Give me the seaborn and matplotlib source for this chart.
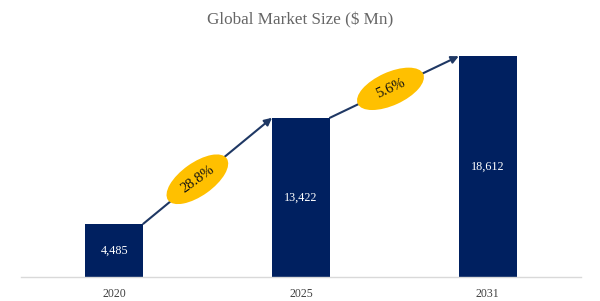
import numpy as np
import pandas as pd
import matplotlib
matplotlib.use("Agg")
import matplotlib.pyplot as plt
from matplotlib.patches import Ellipse
from matplotlib.transforms import IdentityTransform
import seaborn as sns

years = ["2020", "2025", "2031"]
values = [4485, 13422, 18612]
value_labels = ["4,485", "13,422", "18,612"]
cagr_labels = ["28.8%", "5.6%"]

sns.set_style("white")
plt.rcParams["font.family"] = ["Liberation Serif", "DejaVu Serif"]

df = pd.DataFrame({"year": years, "value": values})

fig = plt.figure(figsize=(6, 3.01), dpi=100)
ax = fig.add_axes([21/600, 24/301, 560/600, 247/301])

bar_w = 0.31
navy = "#002060"
sns.barplot(data=df, x="year", y="value", color=navy, width=bar_w,
            saturation=1, ax=ax, edgecolor="none")
ax.set_xlim(-0.5, 2.5)
ax.set_ylim(0, 20820)
ax.set_xlabel("")
ax.set_ylabel("")
ax.set_yticks([])
ax.tick_params(axis="x", length=0, pad=8, labelsize=8.5, labelcolor="#404040")
for s in ["top", "left", "right"]:
    ax.spines[s].set_visible(False)
ax.spines["bottom"].set_color("#D9D9D9")
ax.spines["bottom"].set_linewidth(1)

for i, (v, lab) in enumerate(zip(values, value_labels)):
    ax.text(i, v / 2, lab, ha="center", va="center", color="white", fontsize=8.7)

fig.text(0.5, 1 - 20/301, "Global Market Size ($ Mn)", ha="center", va="center",
         fontsize=12.3, color="#666666")

fig.canvas.draw()
fracs = [0.42, 0.47]
for i in range(2):
    x0, y0 = i + bar_w / 2, values[i]
    x1, y1 = i + 1 - bar_w / 2, values[i + 1]
    ax.annotate("", xy=(x1, y1), xytext=(x0, y0),
                arrowprops=dict(arrowstyle="-|>", color="#1F3864", lw=1.5,
                                mutation_scale=11, shrinkA=0, shrinkB=0))
    p0 = ax.transData.transform((x0, y0))
    p1 = ax.transData.transform((x1, y1))
    ang = np.degrees(np.arctan2(p1[1] - p0[1], p1[0] - p0[0]))
    c = p0 + fracs[i] * (p1 - p0)
    ang_e = ang - 4 if i == 0 else ang - 1
    e = Ellipse(c, 72, 33, angle=ang_e, transform=IdentityTransform(),
                facecolor="#FFC000", edgecolor="none", zorder=5)
    fig.patches.append(e)
    fig.text(c[0] / fig.bbox.width, c[1] / fig.bbox.height, cagr_labels[i],
             ha="center", va="center", rotation=ang_e, rotation_mode="anchor",
             fontsize=10.5, color="#111111", zorder=6)

fig.savefig("out.png", dpi=100)
